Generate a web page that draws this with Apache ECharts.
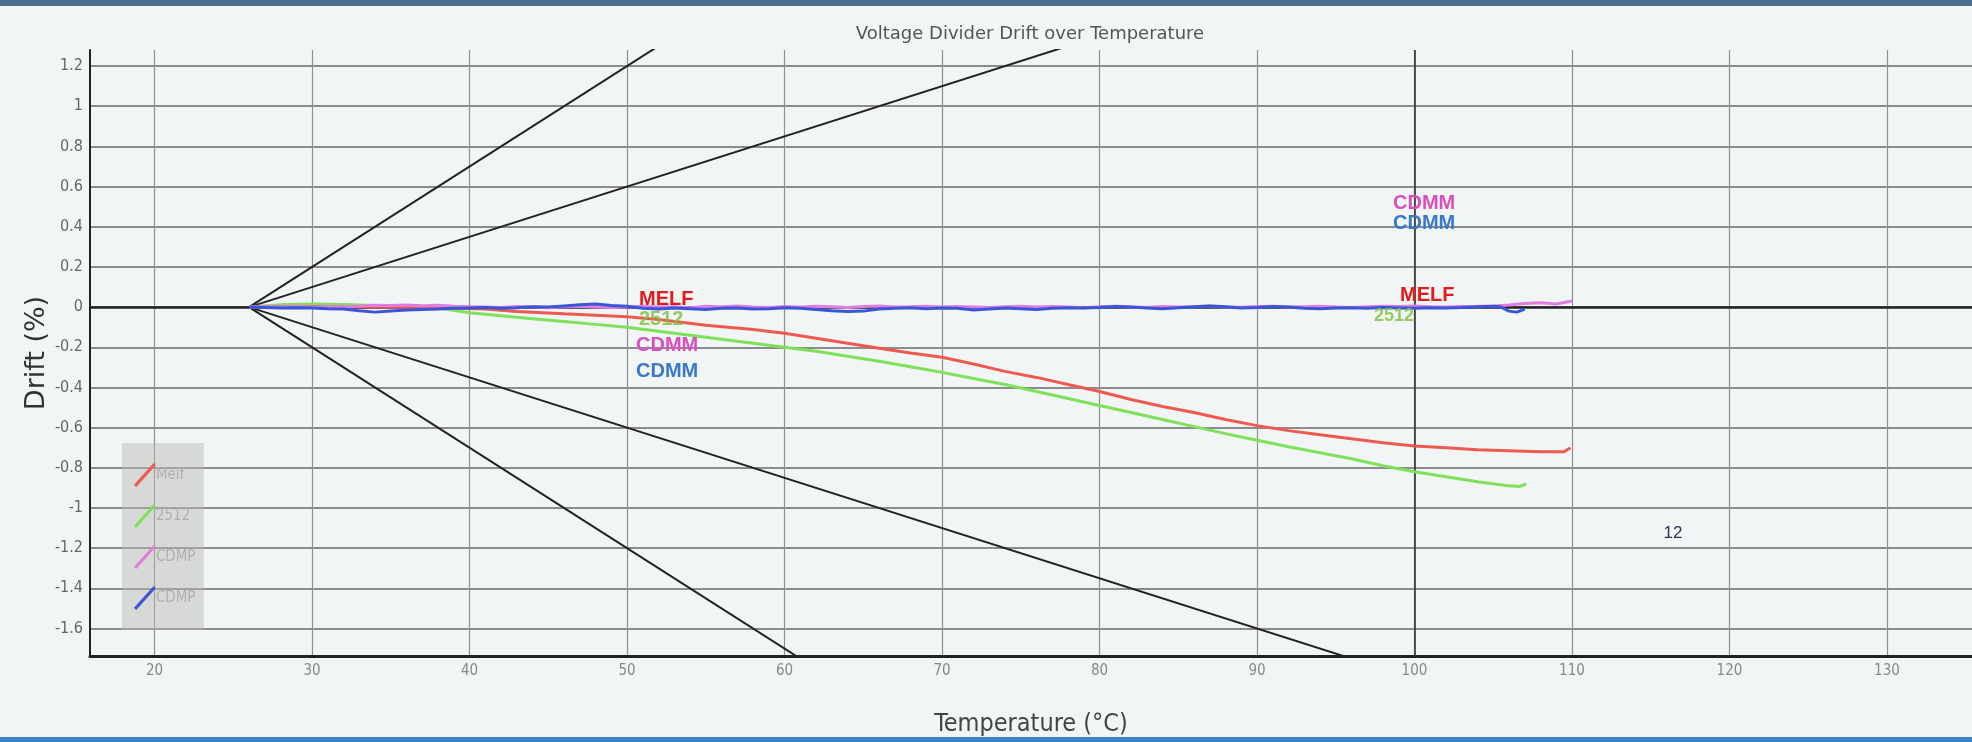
<!DOCTYPE html>
<html>
<head>
<meta charset="utf-8">
<title>Voltage Divider Drift over Temperature</title>
<script src="https://cdn.jsdelivr.net/npm/echarts@6/dist/echarts.min.js"></script>
<style>
  html, body { margin: 0; padding: 0; background: #f1f5f5; }
  #main { width: 1972px; height: 742px; }
</style>
</head>
<body>
<div id="main"></div>
<script>
// tick labels
var xTicks = [20, 30, 40, 50, 60, 70, 80, 90, 100, 110, 120, 130];
var yTicks = [-1.6, -1.4, -1.2, -1, -0.8, -0.6, -0.4, -0.2, 0, 0.2, 0.4, 0.6, 0.8, 1, 1.2];

var melfTemp  = [26, 30, 34, 38, 41, 43, 46, 48, 50, 52, 55, 58, 60, 62, 64, 66, 68, 70, 72, 74, 76, 78, 80, 82, 84, 86, 88, 90, 92, 94, 96, 98, 100, 102, 104, 106, 108, 109.5, 109.9];
var melfDrift = [0, 0.003, 0, -0.003, -0.01, -0.022, -0.033, -0.04, -0.048, -0.062, -0.09, -0.112, -0.13, -0.155, -0.18, -0.205, -0.228, -0.25, -0.283, -0.32, -0.35, -0.385, -0.42, -0.46, -0.495, -0.525, -0.56, -0.59, -0.615, -0.635, -0.655, -0.675, -0.692, -0.7, -0.71, -0.715, -0.72, -0.72, -0.7];

var r2512Temp  = [26, 28, 30, 32, 34, 36, 38, 40, 42, 44, 46, 48, 50, 52, 55, 58, 60, 62, 64, 66, 68, 70, 72, 74, 76, 78, 80, 82, 84, 86, 88, 90, 92, 94, 96, 98, 100, 102, 104, 106, 106.7, 107.1];
var r2512Drift = [0, 0.012, 0.015, 0.013, 0.008, 0.003, -0.005, -0.028, -0.043, -0.058, -0.072, -0.086, -0.1, -0.12, -0.15, -0.18, -0.2, -0.22, -0.245, -0.27, -0.297, -0.325, -0.355, -0.385, -0.42, -0.455, -0.49, -0.525, -0.56, -0.595, -0.63, -0.663, -0.695, -0.725, -0.755, -0.79, -0.82, -0.845, -0.87, -0.89, -0.893, -0.88];

var cdmpATemp  = [26, 27, 28, 29, 30, 31, 32, 33, 34, 35, 36, 37, 38, 39, 40, 41, 42, 43, 44, 45, 46, 47, 48, 49, 50, 51, 52, 53, 54, 55, 56, 57, 58, 59, 60, 61, 62, 63, 64, 65, 66, 67, 68, 69, 70, 71, 72, 73, 74, 75, 76, 77, 78, 79, 80, 81, 82, 83, 84, 85, 86, 87, 88, 89, 90, 91, 92, 93, 94, 95, 96, 97, 98, 99, 100, 101, 102, 103, 104, 105, 106, 107, 108, 109, 110];
var cdmpADrift = [0, 0.003, 0.002, 0.004, 0.001, 0.003, 0, 0.006, 0.009, 0.008, 0.01, 0.007, 0.009, 0.004, 0.002, 0, -0.002, 0.003, 0.001, -0.003, 0.002, 0.004, 0, -0.002, 0.001, 0.003, 0, 0.002, -0.003, 0.004, 0.002, 0.005, 0.001, -0.002, 0.003, 0.001, 0.004, 0.002, -0.002, 0.003, 0.005, 0.001, 0.002, 0.004, 0, 0.003, 0.001, -0.002, 0.002, 0.004, 0.001, 0.003, 0, -0.003, 0.002, 0.004, 0.001, -0.002, 0.003, 0, 0.002, 0.005, 0.001, -0.001, 0.003, 0.004, 0, 0.002, 0.004, 0.001, -0.002, 0.002, 0.004, 0.003, 0.005, 0.002, 0, 0.003, 0.004, 0.006, 0.01, 0.018, 0.022, 0.015, 0.03];

var cdmpBTemp  = [26, 27, 28, 29, 30, 31, 32, 33, 34, 35, 36, 37, 38, 39, 40, 41, 42, 43, 44, 45, 46, 47, 48, 49, 50, 51, 52, 53, 54, 55, 56, 57, 58, 59, 60, 61, 62, 63, 64, 65, 66, 67, 68, 69, 70, 71, 72, 73, 74, 75, 76, 77, 78, 79, 80, 81, 82, 83, 84, 85, 86, 87, 88, 89, 90, 91, 92, 93, 94, 95, 96, 97, 98, 99, 100, 101, 102, 103, 104, 105, 105.5, 106, 106.5, 107];
var cdmpBDrift = [0, -0.002, -0.004, -0.003, -0.005, -0.008, -0.01, -0.018, -0.025, -0.02, -0.015, -0.012, -0.01, -0.006, -0.004, -0.002, -0.006, -0.003, 0.002, 0, 0.006, 0.012, 0.015, 0.008, 0.004, -0.006, -0.01, -0.004, -0.008, -0.012, -0.006, -0.004, -0.01, -0.008, -0.003, -0.006, -0.012, -0.018, -0.022, -0.02, -0.01, -0.006, -0.003, -0.008, -0.004, -0.006, -0.014, -0.01, -0.004, -0.008, -0.012, -0.006, -0.003, -0.005, -0.002, 0.003, 0, -0.004, -0.008, -0.003, 0.002, 0.006, 0.002, -0.004, -0.002, 0.003, 0, -0.006, -0.008, -0.004, -0.003, -0.006, -0.002, -0.004, -0.006, -0.003, -0.004, -0.002, 0.002, 0.004, 0, -0.02, -0.025, -0.01];

// black limit lines fanning out from 26 C (clipped at the plot edge)
var fanUpSteep   = [[26, 0], [52, 1.3]];
var fanUpShallow = [[26, 0], [78, 1.3]];
var fanDnSteep   = [[26, 0], [61, -1.75]];
var fanDnShallow = [[26, 0], [96, -1.75]];

function pairs(xs, ys) {
  return xs.map(function (x, i) { return [x, ys[i]]; });
}

var chart = echarts.init(document.getElementById('main'));

var condensed = '"DejaVu Sans Condensed", "Liberation Sans Narrow", sans-serif';
var slash = 'path://M0,20 L18,0 L20,2 L2,22 Z';

function fan(data) {
  return {
    type: 'line', data: data, symbol: 'none', silent: true, z: 3,
    lineStyle: { color: '#222', width: 2 }
  };
}
function drift(name, data, color, z) {
  return {
    name: name, type: 'line', data: data, symbol: 'none', z: z,
    lineStyle: { color: color, width: 3 }, itemStyle: { color: color }
  };
}

var fanSeries = [fan(fanUpSteep), fan(fanUpShallow), fan(fanDnSteep), fan(fanDnShallow)];
// zero line and the dark 100 C line
fanSeries[0].markLine = {
  silent: true, symbol: 'none', label: { show: false },
  data: [
    { yAxis: 0, lineStyle: { color: '#222', width: 2.5, type: 'solid' } },
    { xAxis: 100, lineStyle: { color: '#333', width: 1.6, type: 'solid' } }
  ]
};

chart.setOption({
  backgroundColor: '#f1f5f5',
  animation: false,
  title: {
    text: 'Voltage Divider Drift over Temperature',
    left: 1025, top: 20, textAlign: 'center',
    textStyle: { fontFamily: '"DejaVu Sans", sans-serif', fontSize: 18, fontWeight: 'normal', color: '#555' }
  },
  legend: {
    orient: 'vertical', left: 122, top: 443,
    padding: [20, 4, 20, 12],
    backgroundColor: 'rgba(185,185,180,0.45)',
    itemWidth: 24, itemHeight: 24, itemGap: 17,
    icon: slash,
    data: ['Melf', '2512', 'CDMP', 'CDMP '],
    textStyle: { color: '#b0b0b0', fontFamily: condensed, fontSize: 15, padding: [0, 0, 0, -6] },
    selectedMode: false
  },
  grid: { left: 90, right: 0, top: 50, bottom: 75 },
  xAxis: {
    type: 'value', min: 15.9, max: 135.4,
    name: 'Temperature (\u00B0C)', nameLocation: 'middle', nameGap: 56,
    nameTextStyle: { fontFamily: '"DejaVu Sans Condensed", sans-serif', fontSize: 25, color: '#444' },
    axisLine: { onZero: false, lineStyle: { color: '#222', width: 3 } },
    axisTick: { show: false, customValues: xTicks },
    axisLabel: { customValues: xTicks, color: '#888', fontFamily: condensed, fontSize: 15, margin: 8 },
    splitLine: { show: true, lineStyle: { color: '#8f8f8f', width: 1.2 } }
  },
  yAxis: {
    type: 'value', min: -1.737, max: 1.28,
    name: 'Drift (%)', nameLocation: 'middle', nameGap: 40, nameMoveOverlap: false,
    nameTextStyle: { fontFamily: '"DejaVu Sans", sans-serif', fontSize: 27, color: '#333' },
    axisLine: { show: true, onZero: false, lineStyle: { color: '#222', width: 2 } },
    axisTick: { show: false, customValues: yTicks },
    axisLabel: { customValues: yTicks, color: '#666', fontFamily: condensed, fontSize: 16, margin: 7 },
    splitLine: { show: true, lineStyle: { color: '#8c8c8c', width: 2 } }
  },
  graphic: [
    { type: 'rect', left: 0, top: 0, z: 100, shape: { width: 1972, height: 6 }, style: { fill: '#4d6f8e' } },
    { type: 'rect', left: 0, top: 737, z: 100, shape: { width: 1972, height: 5 }, style: { fill: '#3f82c4' } },
    { type: 'text', x: 639, y: 299, z: 100, style: { text: 'MELF', fill: '#e01b1b', font: 'bold 20px "Liberation Sans"', verticalAlign: 'middle' } },
    { type: 'text', x: 639, y: 319, z: 100, style: { text: '2512', fill: 'rgba(130,195,70,0.85)', font: 'bold 20px "Liberation Sans"', verticalAlign: 'middle' } },
    { type: 'text', x: 636, y: 345, z: 100, style: { text: 'CDMM', fill: '#d94fc0', font: 'bold 20px "Liberation Sans"', verticalAlign: 'middle' } },
    { type: 'text', x: 636, y: 371, z: 100, style: { text: 'CDMM', fill: '#3a78c9', font: 'bold 20px "Liberation Sans"', verticalAlign: 'middle' } },
    { type: 'text', x: 1393, y: 203, z: 100, style: { text: 'CDMM', fill: '#d94fc0', font: 'bold 20px "Liberation Sans"', verticalAlign: 'middle' } },
    { type: 'text', x: 1393, y: 223, z: 100, style: { text: 'CDMM', fill: '#3a78c9', font: 'bold 20px "Liberation Sans"', verticalAlign: 'middle' } },
    { type: 'text', x: 1400, y: 295, z: 100, style: { text: 'MELF', fill: '#e01b1b', font: 'bold 20px "Liberation Sans"', verticalAlign: 'middle' } },
    { type: 'text', x: 1374, y: 316, z: 100, style: { text: '2512', fill: 'rgba(130,195,70,0.85)', font: 'bold 18px "Liberation Sans"', verticalAlign: 'middle' } },
    { type: 'text', x: 1673, y: 533, z: 100, style: { text: '12', fill: '#2a3550', font: '17px "Liberation Sans"', align: 'center', verticalAlign: 'middle' } }
  ],
  series: fanSeries.concat([
    drift('2512', pairs(r2512Temp, r2512Drift), '#7fe05a', 5),
    drift('Melf', pairs(melfTemp, melfDrift), '#ee5a50', 6),
    drift('CDMP', pairs(cdmpATemp, cdmpADrift), '#e07de0', 7),
    drift('CDMP ', pairs(cdmpBTemp, cdmpBDrift), '#3a55d8', 8)
  ])
});
</script>
</body>
</html>
